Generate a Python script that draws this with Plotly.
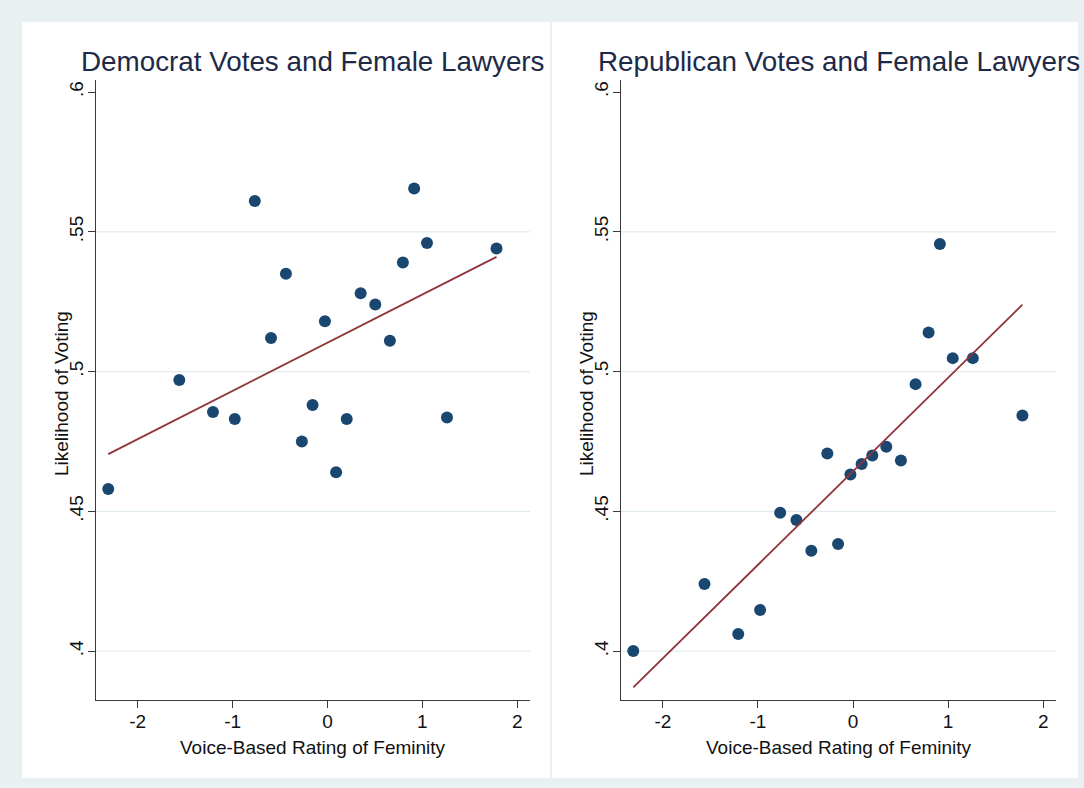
import plotly.graph_objects as go

# Voice-based femininity rating of each lawyer (shared by both panels)
femininity = [-2.311, -1.562, -1.207, -0.977, -0.766, -0.595, -0.438, -0.270,
              -0.157, -0.027, 0.091, 0.203, 0.350, 0.504, 0.658, 0.795,
              0.914, 1.049, 1.260, 1.782]

# Likelihood of a vote going to each party, same lawyer order as above
dem_votes = [0.458, 0.497, 0.4855, 0.483, 0.561, 0.512, 0.535, 0.475,
             0.488, 0.518, 0.464, 0.483, 0.528, 0.524, 0.511, 0.539,
             0.5655, 0.546, 0.4836, 0.544]
rep_votes = [0.400, 0.424, 0.4061, 0.4147, 0.4495, 0.4469, 0.4359, 0.4707,
             0.4383, 0.4632, 0.4669, 0.470, 0.4731, 0.4682, 0.4955, 0.514,
             0.5456, 0.5048, 0.5048, 0.4843]

# Linear-fit lines (intercept, slope) estimated on the underlying votes
dem_fit = [0.5103, 0.01724]
rep_fit = [0.4643, 0.03345]

panel_titles = ["Democrat Votes and Female Lawyers",
                "Republican Votes and Female Lawyers"]
x_title = "Voice-Based Rating of Feminity"
y_title = "Likelihood of Voting"

y_ticks = [0.4, 0.45, 0.5, 0.55, 0.6]
y_tick_text = [".4", ".45", ".5", ".55", ".6"]
grid_vals = [0.4, 0.45, 0.5, 0.55]
x_ticks = [-2, -1, 0, 1, 2]
x_tick_text = ["-2", "-1", "0", "1", "2"]

W, H = 1084, 788
NAVY = "#1a476f"
MAROON = "#90353b"
BG = "#e8f0f2"
GRID = "#e1ebee"
AXIS = "#3a3a3a"
FONT = "Liberation Sans, Arial, Helvetica, sans-serif"

fig = go.Figure()

series = [(dem_votes, dem_fit), (rep_votes, rep_fit)]
for i, (yv, fit) in enumerate(series):
    xa = "x" if i == 0 else "x2"
    ya = "y" if i == 0 else "y2"
    b0, b1 = fit
    xs = [min(femininity), max(femininity)]
    fig.add_trace(go.Scatter(
        x=femininity, y=yv, mode="markers", xaxis=xa, yaxis=ya,
        marker=dict(color=NAVY, size=12, line=dict(width=0)),
        showlegend=False, hoverinfo="skip"))
    fig.add_trace(go.Scatter(
        x=xs, y=[b0 + b1 * v for v in xs], mode="lines", xaxis=xa, yaxis=ya,
        line=dict(color=MAROON, width=1.8),
        showlegend=False, hoverinfo="skip"))

# plot regions in pixels
panels = [
    dict(x0=96, x1=530),
    dict(x0=621, x1=1056),
]
y_top, y_bot = 80, 700
ydom = [1 - y_bot / H, 1 - y_top / H]
x_range = [-2.44, 2.135]
y_range = [0.3825, 0.6043]

axis_common = dict(
    showline=True, linecolor=AXIS, linewidth=1.2,
    ticks="outside", ticklen=7, tickcolor=AXIS, tickwidth=1.2,
    zeroline=False, showgrid=False, mirror=False,
    tickfont=dict(family=FONT, size=19, color="#111111"),
)

layout = dict(
    width=W, height=H,
    margin=dict(l=0, r=0, t=0, b=0),
    paper_bgcolor=BG, plot_bgcolor="white",
    font=dict(family=FONT),
    showlegend=False,
)
for i, p in enumerate(panels):
    sfx = "" if i == 0 else "2"
    layout["xaxis" + sfx] = dict(
        axis_common, domain=[p["x0"] / W, p["x1"] / W], range=x_range,
        tickvals=x_ticks, ticktext=x_tick_text, ticklabelstandoff=-3,
        anchor="y" + sfx)
    layout["yaxis" + sfx] = dict(
        axis_common, domain=ydom, range=y_range,
        tickvals=y_ticks, ticktext=y_tick_text, tickangle=-90,
        ticklabelstandoff=-3, anchor="x" + sfx)
fig.update_layout(**layout)

shapes = []
# white graph regions for both panels
for x0, x1 in [(22, 550), (552, 1078)]:
    shapes.append(dict(type="rect", xref="paper", yref="paper",
                       x0=x0 / W, x1=x1 / W, y0=1 - 778 / H, y1=1 - 22 / H,
                       fillcolor="white", line=dict(width=0), layer="below"))
# horizontal grid lines
for i in range(2):
    sfx = "" if i == 0 else "2"
    for g in grid_vals:
        shapes.append(dict(type="line", xref="x" + sfx + " domain",
                           yref="y" + sfx, x0=0, x1=1, y0=g, y1=g,
                           line=dict(color=GRID, width=1.2), layer="below"))
fig.update_layout(shapes=shapes)

annotations = []
for i, p in enumerate(panels):
    cx = (p["x0"] + p["x1"]) / 2 / W
    annotations.append(dict(
        text=panel_titles[i], xref="paper", yref="paper",
        x=cx, y=1 - 61 / H, xanchor="center", yanchor="middle",
        showarrow=False, font=dict(family=FONT, size=27.8, color="#1c2a48")))
    annotations.append(dict(
        text=x_title, xref="paper", yref="paper",
        x=cx, y=1 - 747 / H, xanchor="center", yanchor="middle",
        showarrow=False, font=dict(family=FONT, size=19, color="#111111")))
    annotations.append(dict(
        text=y_title, xref="paper", yref="paper",
        x=(p["x0"] - 35) / W, y=1 - 394 / H, xanchor="center",
        yanchor="middle", textangle=-90,
        showarrow=False, font=dict(family=FONT, size=19, color="#111111")))
fig.update_layout(annotations=annotations)

fig.write_html("out.html")
